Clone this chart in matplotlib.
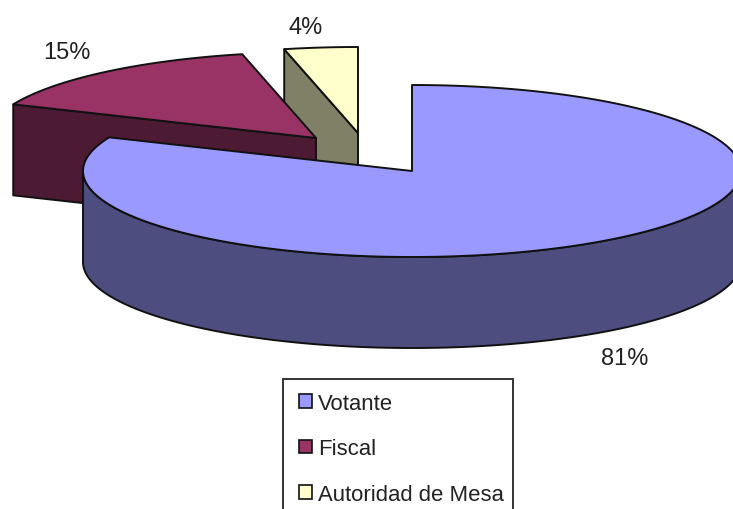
import numpy as np
import matplotlib
matplotlib.use("Agg")
import matplotlib.pyplot as plt
from matplotlib.patches import Polygon, Patch, Rectangle

categories = ["Votante", "Fiscal", "Autoridad de Mesa"]
values = [81.4, 15.0, 3.6]
colors = ["#9999FF", "#993366", "#FFFFCC"]
side_colors = ["#4D4D80", "#4D1A33", "#808066"]

# pie geometry in pixels
rx = 329
ry = 86
depth = 91
apex = [(412, 172), (316, 139), (358, 134)]
label_pos = [(625, 359), (67, 53), (306, 28)]

plt.rcParams["font.family"] = ["Liberation Sans", "DejaVu Sans"]
text_color = "#222222"
edge = "#111111"

fig = plt.figure(figsize=(7.33, 5.10), dpi=100)
ax = fig.add_axes([0, 0, 1, 1])
ax.set_xlim(0, 733)
ax.set_ylim(510, 0)
ax.axis("off")


def arc(center, a0, a1):
    t = np.radians(np.linspace(a0, a1, 200))
    return np.column_stack([center[0] + rx * np.cos(t), center[1] - ry * np.sin(t)])


def poly(pts, color, z):
    ax.add_patch(Polygon(pts, closed=True, facecolor=color, edgecolor=edge,
                         linewidth=1.4, joinstyle="round", zorder=z))


# angles run clockwise from twelve o'clock
fractions = np.array(values) / sum(values)
ends = 90 - 360 * np.cumsum(fractions)
starts = np.concatenate([[90], ends[:-1]])

# back wedges first, then the big one on top of them
for i in [2, 1, 0]:
    c = apex[i]
    z = 3 - i if i else 4
    top = arc(c, starts[i], ends[i])
    if i == 0:
        # round front rim, left extreme to right extreme
        rim = arc(c, 180, 360)
        poly(np.vstack([rim, (rim + [0, depth])[::-1]]), side_colors[i], z)
    else:
        # flat cut face, seen from the front
        cut = np.array([top[0], c])
        poly(np.vstack([cut, (cut + [0, depth])[::-1]]), side_colors[i], z)
    poly(np.vstack([[c], top]), colors[i], z + 0.5)

for val, pos in zip(values, label_pos):
    ax.text(pos[0], pos[1], f"{round(val)}%", ha="center", va="center",
            fontsize=17, color=text_color)

# frame drawn apart, the legend's own one has equal padding on both sides
ax.add_patch(Rectangle((283, 380), 230, 140, facecolor="white", edgecolor="#333333",
                       linewidth=1.4, zorder=9))
handles = [Patch(facecolor=col, edgecolor=edge, linewidth=1.2) for col in colors]
leg = ax.legend(handles, categories, loc="upper left", bbox_to_anchor=(299, 394),
                bbox_transform=ax.transData, fontsize=15.9, frameon=False,
                borderaxespad=0, borderpad=0, labelspacing=1.1, handlelength=0.59,
                handleheight=0.59, handletextpad=0.28, labelcolor=text_color)
leg.set_zorder(10)

fig.savefig("out.png", dpi=100)
